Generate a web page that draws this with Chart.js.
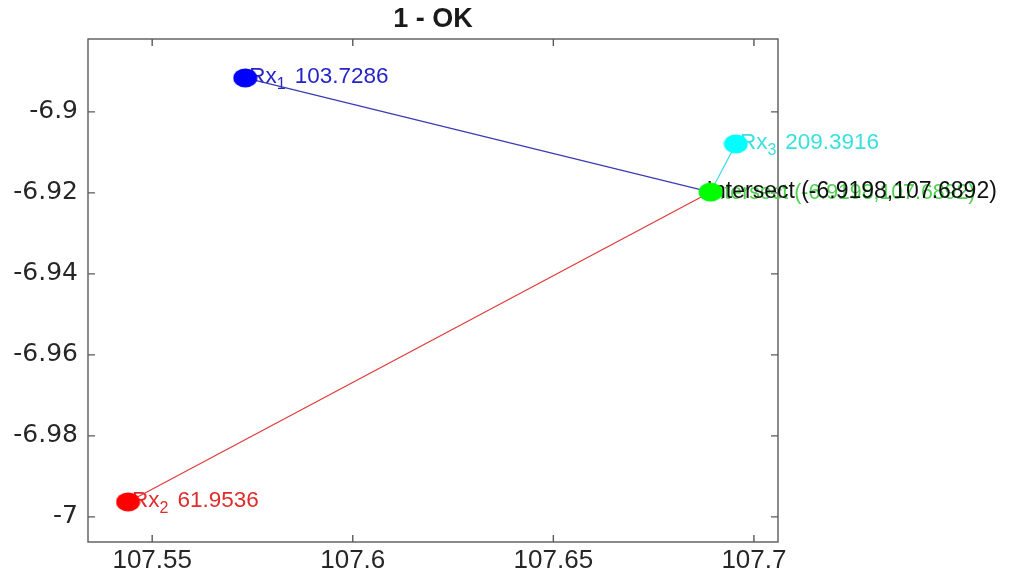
<!DOCTYPE html>
<html>
<head>
<meta charset="utf-8">
<script src="https://cdn.jsdelivr.net/npm/chart.js@4.4.1/dist/chart.umd.min.js"></script>
<style>
  html, body { margin: 0; padding: 0; background: #ffffff; }
  #wrap { width: 1011px; height: 575px; }
</style>
</head>
<body>
<div id="wrap"><canvas id="c" width="1011" height="575"></canvas></div>
<script>
// Receiver positions (longitude, latitude) and measured ranges
const receiverSubs  = ['1', '2', '3'];
const receiverLon   = [107.5732, 107.5440, 107.6955];
const receiverLat   = [-6.8916, -6.9963, -6.9079];
const receiverRange = ['103.7286', '61.9536', '209.3916'];

// Estimated intersection point
const intersectLon = [107.6892];
const intersectLat = [-6.9198];

// Axis ticks
const xTickValues = [107.55, 107.6, 107.65, 107.7];
const yTickValues = [-7, -6.98, -6.96, -6.94, -6.92, -6.9];

const markerColors = ['#0000ff', '#ff0000', '#00ffff'];
const lineColors   = ['#3a3ab4', '#e03a3a', '#40d8e8'];
const textColors   = ['#2424c8', '#e02c2c', '#38e0e0'];

const FONT = '"Liberation Sans", Arial, Helvetica, sans-serif';

// filled ellipse used as marker
function ellipseMarker(color) {
  const c = document.createElement('canvas');
  c.width = 25; c.height = 20;
  const g = c.getContext('2d');
  g.fillStyle = color;
  g.beginPath();
  g.ellipse(12.5, 10, 12, 9.5, 0, 0, Math.PI * 2);
  g.fill();
  return c;
}

const datasets = [];
// intersection marker first so it is painted on top
datasets.push({
  data: [{ x: intersectLon[0], y: intersectLat[0] }],
  showLine: false,
  pointStyle: ellipseMarker('#00ff00'),
  pointRadius: 10,
  clip: false
});
for (let i = 0; i < receiverLon.length; i++) {
  datasets.push({
    data: [
      { x: receiverLon[i], y: receiverLat[i] },
      { x: intersectLon[0], y: intersectLat[0] }
    ],
    showLine: true,
    borderColor: lineColors[i],
    borderWidth: 1.2,
    pointStyle: [ellipseMarker(markerColors[i]), false],
    pointRadius: [10, 0],
    clip: false
  });
}

// axes box with inward ticks on all four sides, plus the title
const framePlugin = {
  id: 'frame',
  beforeDatasetsDraw(chart) {
    const { ctx, chartArea: a, scales: { x, y } } = chart;
    ctx.save();
    ctx.strokeStyle = '#5a5a5a';
    ctx.lineWidth = 1.4;
    ctx.strokeRect(a.left, a.top, a.right - a.left, a.bottom - a.top);
    ctx.beginPath();
    xTickValues.forEach(v => {
      const px = x.getPixelForValue(v);
      ctx.moveTo(px, a.bottom); ctx.lineTo(px, a.bottom - 7);
      ctx.moveTo(px, a.top);    ctx.lineTo(px, a.top + 7);
    });
    yTickValues.forEach(v => {
      const py = y.getPixelForValue(v);
      ctx.moveTo(a.left, py);  ctx.lineTo(a.left + 7, py);
      ctx.moveTo(a.right, py); ctx.lineTo(a.right - 7, py);
    });
    ctx.stroke();
    ctx.restore();
  },
  afterDraw(chart) {
    const { ctx, chartArea: a } = chart;
    ctx.save();
    ctx.fillStyle = '#1a1a1a';
    ctx.font = 'bold 27px ' + FONT;
    ctx.textAlign = 'center';
    ctx.textBaseline = 'middle';
    ctx.fillText('1 - OK', (a.left + a.right) / 2, 20);
    ctx.restore();
  }
};

// point annotations, painted beneath the markers
const labelPlugin = {
  id: 'pointLabels',
  beforeDatasetsDraw(chart) {
    const { ctx, scales: { x, y } } = chart;
    ctx.save();
    ctx.textBaseline = 'middle';
    ctx.textAlign = 'left';
    for (let i = 0; i < receiverLon.length; i++) {
      let px = x.getPixelForValue(receiverLon[i]) + 4;
      const py = y.getPixelForValue(receiverLat[i]) - 1;
      ctx.fillStyle = textColors[i];
      ctx.font = '22.5px ' + FONT;
      ctx.fillText('Rx', px, py);
      px += ctx.measureText('Rx').width;
      ctx.font = '16px ' + FONT;
      ctx.fillText(receiverSubs[i], px, py + 8);
      px += ctx.measureText(receiverSubs[i]).width + 9;
      ctx.font = '22.5px ' + FONT;
      ctx.fillText(receiverRange[i], px, py);
    }
    const ix = x.getPixelForValue(intersectLon[0]) - 4;
    const iy = y.getPixelForValue(intersectLat[0]);
    const txt = 'Intersect (' + intersectLat[0].toFixed(4) + ',' + intersectLon[0].toFixed(4) + ')';
    ctx.fillStyle = '#4fd24f';
    ctx.font = '21.3px ' + FONT;
    ctx.fillText(txt, ix, iy + 1);
    ctx.fillStyle = '#111111';
    ctx.font = '23px ' + FONT;
    ctx.fillText(txt, ix, iy);
    ctx.restore();
  }
};

new Chart(document.getElementById('c'), {
  type: 'scatter',
  data: { datasets },
  options: {
    responsive: false,
    animation: false,
    devicePixelRatio: 1,
    layout: { padding: { top: 39, right: 233, bottom: 0, left: 0 } },
    plugins: { legend: { display: false }, tooltip: { enabled: false }, title: { display: false } },
    scales: {
      x: {
        type: 'linear',
        min: 107.534,
        max: 107.706,
        afterBuildTicks: s => { s.ticks = xTickValues.map(v => ({ value: v })); },
        afterFit: s => { s.height = 33; },
        grid: { display: false, drawTicks: false },
        border: { display: false },
        ticks: {
          padding: 3,
          color: '#262626',
          font: { family: FONT, size: 26 },
          callback: v => String(v)
        }
      },
      y: {
        type: 'linear',
        min: -7.0062,
        max: -6.882,
        afterBuildTicks: s => { s.ticks = yTickValues.map(v => ({ value: v })); },
        afterFit: s => { s.width = 88; },
        grid: { display: false, drawTicks: false },
        border: { display: false },
        ticks: {
          padding: 10,
          color: '#262626',
          font: { family: '"DejaVu Sans", Verdana, sans-serif', size: 25 },
          callback: v => String(v)
        }
      }
    }
  },
  plugins: [framePlugin, labelPlugin]
});
</script>
</body>
</html>
